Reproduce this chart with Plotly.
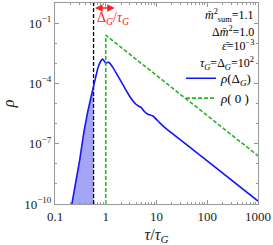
import numpy as np
import plotly.graph_objects as go

# ---- data ----
tau_blue = [0.215, 0.257, 0.309, 0.372, 0.447, 0.562, 0.708, 0.794, 0.861, 0.933,
            1.0, 1.084, 1.161, 1.380, 1.622, 2.188, 2.951, 3.981, 5.012, 5.754,
            6.761, 8.511, 11.48, 14.45, 100.0, 1000.0]
rho_blue = [1e-10, 1.26e-9, 1.78e-8, 4.0e-7, 4.5e-6, 5.6e-5, 6.3e-4, 1.26e-3, 1.62e-3, 1.32e-3,
            1.0e-3, 1.12e-3, 1.10e-3, 6.3e-4, 3.16e-4, 8.5e-5, 2.3e-5, 8.9e-6, 6.2e-6, 4.0e-6,
            2.9e-6, 2.4e-6, 1.12e-6, 6.5e-7, 1.41e-8, 1.41e-10]

tau_green = [1.0, 1.0, 1000.0]
rho_green = [1e-10, 0.025, 2.5e-8]

tau_cut = 0.575          # black dashed line position
tau_arrow_end = 1.5      # right end of red arrow
y_floor = 1e-10
y_top = 1.0

x_tickvals = [0.1, 1, 10, 100, 1000]
x_ticktext = ["0.1", "1", "10", "100", "1000"]
y_tickvals = [1e-1, 1e-4, 1e-7, 1e-10]
y_ticktext = ["10<sup>−1</sup>", "10<sup>−4</sup>", "10<sup>−7</sup>", "10<sup>−10</sup>"]

param_lines = [
    "<i>m̄</i><sup>2</sup><sub>sum</sub>=1.1",
    "Δ<i>m̄</i><sup>2</sup>=1.0",
    "<i>ε̄</i>=10<sup>−3</sup>",
    "<i>τ</i><sub><i>G</i></sub>=Δ<sub><i>G</i></sub>=10<sup>2</sup>",
]

FONT = "Liberation Serif"

# ---- shaded region under blue curve up to tau_cut ----
lt = np.log10(tau_blue)
lr = np.log10(rho_blue)
rho_cut = 10 ** np.interp(np.log10(tau_cut), lt, lr)
mask = np.array(tau_blue) < tau_cut
fill_x = list(np.array(tau_blue)[mask]) + [tau_cut, tau_cut, tau_blue[0]]
fill_y = list(np.array(rho_blue)[mask]) + [rho_cut, y_floor, y_floor]

fig = go.Figure()
fig.add_trace(go.Scatter(x=fill_x, y=fill_y, fill="toself", mode="lines",
                         line=dict(width=0), fillcolor="rgb(165,165,245)",
                         showlegend=False, hoverinfo="skip"))
fig.add_trace(go.Scatter(x=[tau_cut, tau_cut], y=[y_floor, y_top], mode="lines",
                         line=dict(color="black", width=1.3, dash="4px,2px"),
                         showlegend=False))
fig.add_trace(go.Scatter(x=tau_blue, y=rho_blue, mode="lines",
                         line=dict(color="rgb(20,20,255)", width=1.6, shape="spline", smoothing=0.4),
                         name="<i>ρ</i>(Δ<sub><i>G</i></sub>)"))
fig.add_trace(go.Scatter(x=tau_green, y=rho_green, mode="lines",
                         line=dict(color="rgb(40,180,40)", width=1.6, dash="4px,2px"),
                         name="<i>ρ</i>( 0 )"))

# red double arrow + label
fig.add_annotation(x=np.log10(tau_arrow_end), y=-0.25, ax=np.log10(tau_cut), ay=-0.25,
                   xref="x", yref="y", axref="x", ayref="y", text="",
                   showarrow=True, arrowside="end+start", arrowhead=2, arrowsize=1,
                   arrowwidth=1.5, arrowcolor="rgb(255,30,30)")
fig.add_annotation(x=np.log10(tau_cut) + 0.02, y=-0.75, xref="x", yref="y",
                   text="Δ<sub><i>G</i></sub>/<i>τ</i><sub><i>G</i></sub>",
                   showarrow=False, xanchor="left", yanchor="middle",
                   font=dict(family=FONT, size=14, color="rgb(255,30,30)"))

param_y = [0.936, 0.858, 0.789, 0.701]
for txt, yy in zip(param_lines, param_y):
    fig.add_annotation(x=0.99, y=yy, xref="paper", yref="paper", text=txt,
                       showarrow=False, xanchor="right", yanchor="middle",
                       font=dict(family=FONT, size=12, color="black"))

axis_common = dict(type="log", showgrid=False, zeroline=False, showline=True,
                   linecolor="#999999", linewidth=1, mirror="ticks", ticks="inside",
                   ticklen=4, tickcolor="#999999",
                   tickfont=dict(family=FONT, size=13, color="#222222"))

x_minor = [m * 10.0 ** k for k in range(-1, 3) for m in range(2, 10)]
y_minor = [10.0 ** k for k in range(-10, 1)]

fig.update_xaxes(**axis_common, range=[-1, 3], tickvals=x_tickvals, ticktext=x_ticktext,
                 minor=dict(tickvals=x_minor, ticks="inside", ticklen=2, tickcolor="#999999"),
                 title=dict(text="<i>τ</i>/<i>τ</i><sub><i>G</i></sub>", standoff=8,
                            font=dict(family=FONT, size=16, color="#222222")))
fig.update_yaxes(**axis_common, range=[-10, 0], tickvals=y_tickvals, ticktext=y_ticktext,
                 minor=dict(tickvals=y_minor, ticks="inside", ticklen=2, tickcolor="#999999"),
                 title=dict(text="<i>ρ</i>", standoff=8,
                            font=dict(family=FONT, size=16, color="#222222")))

fig.update_layout(width=273, height=245, margin=dict(l=55, r=14, t=2, b=39),
                  plot_bgcolor="white", paper_bgcolor="white",
                  showlegend=True,
                  legend=dict(x=0.995, y=0.70, xanchor="right", yanchor="top",
                              bgcolor="rgba(0,0,0,0)", borderwidth=0,
                              font=dict(family=FONT, size=13, color="black"),
                              tracegroupgap=0, itemwidth=30))

fig.write_html("out.html", config={"displayModeBar": False},
               post_script="document.body.style.margin='0';document.body.style.overflow='hidden';")
